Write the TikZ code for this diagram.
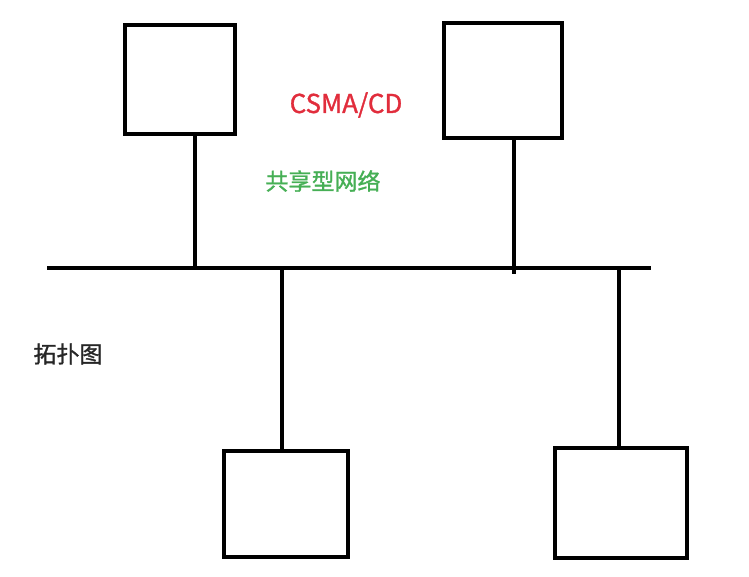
\documentclass[tikz,border=0pt]{standalone}
\usepackage{fontspec}
\newfontfamily\cjk[FakeBold=1.2]{Noto Sans CJK SC}
\definecolor{protored}{RGB}{225,45,60}
\definecolor{netgreen}{RGB}{70,175,85}
\begin{document}
\begin{tikzpicture}[x=1pt,y=-1pt,
  host/.style={draw=black,line width=3.1pt,minimum width=#1,inner sep=0pt},
  wire/.style={line width=3.1pt,black,line cap=butt},
  lbl/.style={font=\cjk\fontsize{23}{26}\selectfont,inner sep=0pt}]
\useasboundingbox (0,0) rectangle (749,577);
% hosts
\node[host=110pt,minimum height=109pt] (h1) at (180,79.5) {};
\node[host=118pt,minimum height=115pt] (h2) at (503,80.5) {};
\node[host=124pt,minimum height=106pt] (h3) at (286,504) {};
\node[host=132pt,minimum height=110pt] (h4) at (621,503) {};
% shared bus
\coordinate (busL) at (47,268);
\coordinate (busR) at (651,268);
\draw[wire] (busL) -- (busR);
% drops from hosts to the bus
\coordinate (t1) at (195,268);
\coordinate (t2) at (514,274);
\coordinate (t3) at (282,268);
\coordinate (t4) at (619,268);
\draw[wire] (h1.south -| t1) -- (t1);
\draw[wire] (h2.south -| t2) -- (t2);
\draw[wire] (t3) -- (h3.north -| t3);
\draw[wire] (t4) -- (h4.north -| t4);
% labels
\node[lbl,text=protored,font=\cjk\fontsize{26}{30}\selectfont] (proto) at (346,105) {CSMA/CD};
\node[lbl,text=netgreen] (net) at (323,181) {共享型网络};
\node[lbl,text=black!85] (topo) at (68,354) {拓扑图};
\end{tikzpicture}
\end{document}
